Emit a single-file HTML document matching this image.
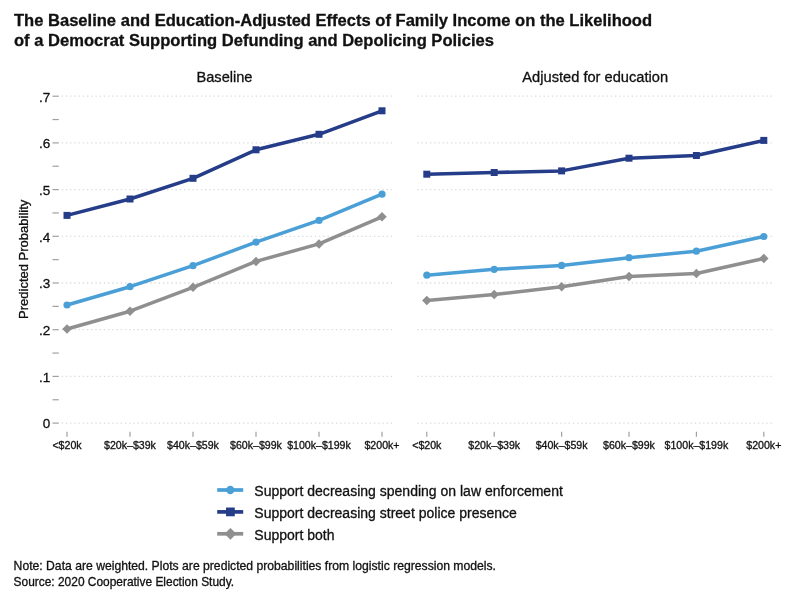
<!DOCTYPE html><html><head><meta charset="utf-8"><style>html,body{margin:0;padding:0;background:#fff;}svg{display:block;will-change:transform}text{font-family:"Liberation Sans",sans-serif;fill:#111;stroke:#111;stroke-width:0.3px}</style></head><body>
<svg width="798" height="600" viewBox="0 0 798 600">
<rect width="798" height="600" fill="#fff"/>
<text x="14" y="26.1" font-size="16.56" font-weight="bold" stroke-width="0">The Baseline and Education-Adjusted Effects of Family Income on the Likelihood</text>
<text x="14" y="45.9" font-size="16.56" font-weight="bold" stroke-width="0">of a Democrat Supporting Defunding and Depolicing Policies</text>
<text x="224.5" y="81.6" font-size="14.6" text-anchor="middle">Baseline</text>
<text x="595.2" y="81.6" font-size="14.65" text-anchor="middle">Adjusted for education</text>
<text transform="translate(27.9,259.3) rotate(-90)" font-size="13" text-anchor="middle">Predicted Probability</text>
<line x1="61.6" y1="423.10" x2="392" y2="423.10" stroke="#dcdcdc" stroke-width="1.3" stroke-dasharray="1.4 2.82"/>
<line x1="417.3" y1="423.10" x2="772.5" y2="423.10" stroke="#dcdcdc" stroke-width="1.3" stroke-dasharray="1.4 2.804"/>
<line x1="61.6" y1="376.40" x2="392" y2="376.40" stroke="#dcdcdc" stroke-width="1.3" stroke-dasharray="1.4 2.82"/>
<line x1="417.3" y1="376.40" x2="772.5" y2="376.40" stroke="#dcdcdc" stroke-width="1.3" stroke-dasharray="1.4 2.804"/>
<line x1="61.6" y1="329.70" x2="392" y2="329.70" stroke="#dcdcdc" stroke-width="1.3" stroke-dasharray="1.4 2.82"/>
<line x1="417.3" y1="329.70" x2="772.5" y2="329.70" stroke="#dcdcdc" stroke-width="1.3" stroke-dasharray="1.4 2.804"/>
<line x1="61.6" y1="283.00" x2="392" y2="283.00" stroke="#dcdcdc" stroke-width="1.3" stroke-dasharray="1.4 2.82"/>
<line x1="417.3" y1="283.00" x2="772.5" y2="283.00" stroke="#dcdcdc" stroke-width="1.3" stroke-dasharray="1.4 2.804"/>
<line x1="61.6" y1="236.30" x2="392" y2="236.30" stroke="#dcdcdc" stroke-width="1.3" stroke-dasharray="1.4 2.82"/>
<line x1="417.3" y1="236.30" x2="772.5" y2="236.30" stroke="#dcdcdc" stroke-width="1.3" stroke-dasharray="1.4 2.804"/>
<line x1="61.6" y1="189.60" x2="392" y2="189.60" stroke="#dcdcdc" stroke-width="1.3" stroke-dasharray="1.4 2.82"/>
<line x1="417.3" y1="189.60" x2="772.5" y2="189.60" stroke="#dcdcdc" stroke-width="1.3" stroke-dasharray="1.4 2.804"/>
<line x1="61.6" y1="142.90" x2="392" y2="142.90" stroke="#dcdcdc" stroke-width="1.3" stroke-dasharray="1.4 2.82"/>
<line x1="417.3" y1="142.90" x2="772.5" y2="142.90" stroke="#dcdcdc" stroke-width="1.3" stroke-dasharray="1.4 2.804"/>
<line x1="61.6" y1="96.20" x2="392" y2="96.20" stroke="#dcdcdc" stroke-width="1.3" stroke-dasharray="1.4 2.82"/>
<line x1="417.3" y1="96.20" x2="772.5" y2="96.20" stroke="#dcdcdc" stroke-width="1.3" stroke-dasharray="1.4 2.804"/>
<line x1="52.5" y1="423.10" x2="58.8" y2="423.10" stroke="#a0a0a0" stroke-width="1.2"/>
<line x1="52.5" y1="399.75" x2="58.8" y2="399.75" stroke="#a0a0a0" stroke-width="1.2"/>
<line x1="52.5" y1="376.40" x2="58.8" y2="376.40" stroke="#a0a0a0" stroke-width="1.2"/>
<line x1="52.5" y1="353.05" x2="58.8" y2="353.05" stroke="#a0a0a0" stroke-width="1.2"/>
<line x1="52.5" y1="329.70" x2="58.8" y2="329.70" stroke="#a0a0a0" stroke-width="1.2"/>
<line x1="52.5" y1="306.35" x2="58.8" y2="306.35" stroke="#a0a0a0" stroke-width="1.2"/>
<line x1="52.5" y1="283.00" x2="58.8" y2="283.00" stroke="#a0a0a0" stroke-width="1.2"/>
<line x1="52.5" y1="259.65" x2="58.8" y2="259.65" stroke="#a0a0a0" stroke-width="1.2"/>
<line x1="52.5" y1="236.30" x2="58.8" y2="236.30" stroke="#a0a0a0" stroke-width="1.2"/>
<line x1="52.5" y1="212.95" x2="58.8" y2="212.95" stroke="#a0a0a0" stroke-width="1.2"/>
<line x1="52.5" y1="189.60" x2="58.8" y2="189.60" stroke="#a0a0a0" stroke-width="1.2"/>
<line x1="52.5" y1="166.25" x2="58.8" y2="166.25" stroke="#a0a0a0" stroke-width="1.2"/>
<line x1="52.5" y1="142.90" x2="58.8" y2="142.90" stroke="#a0a0a0" stroke-width="1.2"/>
<line x1="52.5" y1="119.55" x2="58.8" y2="119.55" stroke="#a0a0a0" stroke-width="1.2"/>
<line x1="52.5" y1="96.20" x2="58.8" y2="96.20" stroke="#a0a0a0" stroke-width="1.2"/>
<text x="50.3" y="428.45" font-size="13.5" text-anchor="end">0</text>
<text x="50.3" y="381.75" font-size="13.5" text-anchor="end">.1</text>
<text x="50.3" y="335.05" font-size="13.5" text-anchor="end">.2</text>
<text x="50.3" y="288.35" font-size="13.5" text-anchor="end">.3</text>
<text x="50.3" y="241.65" font-size="13.5" text-anchor="end">.4</text>
<text x="50.3" y="194.95" font-size="13.5" text-anchor="end">.5</text>
<text x="50.3" y="148.25" font-size="13.5" text-anchor="end">.6</text>
<text x="50.3" y="101.55" font-size="13.5" text-anchor="end">.7</text>
<line x1="67.00" y1="431.8" x2="67.00" y2="436.7" stroke="#a0a0a0" stroke-width="1.2"/>
<text x="67.00" y="448.7" font-size="10.6" text-anchor="middle">&lt;$20k</text>
<line x1="130.00" y1="431.8" x2="130.00" y2="436.7" stroke="#a0a0a0" stroke-width="1.2"/>
<text x="130.00" y="448.7" font-size="10.6" text-anchor="middle">$20k&#8211;$39k</text>
<line x1="193.00" y1="431.8" x2="193.00" y2="436.7" stroke="#a0a0a0" stroke-width="1.2"/>
<text x="193.00" y="448.7" font-size="10.6" text-anchor="middle">$40k&#8211;$59k</text>
<line x1="256.00" y1="431.8" x2="256.00" y2="436.7" stroke="#a0a0a0" stroke-width="1.2"/>
<text x="256.00" y="448.7" font-size="10.6" text-anchor="middle">$60k&#8211;$99k</text>
<line x1="319.00" y1="431.8" x2="319.00" y2="436.7" stroke="#a0a0a0" stroke-width="1.2"/>
<text x="319.00" y="448.7" font-size="10.6" text-anchor="middle">$100k&#8211;$199k</text>
<line x1="382.00" y1="431.8" x2="382.00" y2="436.7" stroke="#a0a0a0" stroke-width="1.2"/>
<text x="382.00" y="448.7" font-size="10.6" text-anchor="middle">$200k+</text>
<line x1="426.80" y1="431.8" x2="426.80" y2="436.7" stroke="#a0a0a0" stroke-width="1.2"/>
<text x="426.80" y="448.7" font-size="10.6" text-anchor="middle">&lt;$20k</text>
<line x1="494.20" y1="431.8" x2="494.20" y2="436.7" stroke="#a0a0a0" stroke-width="1.2"/>
<text x="494.20" y="448.7" font-size="10.6" text-anchor="middle">$20k&#8211;$39k</text>
<line x1="561.60" y1="431.8" x2="561.60" y2="436.7" stroke="#a0a0a0" stroke-width="1.2"/>
<text x="561.60" y="448.7" font-size="10.6" text-anchor="middle">$40k&#8211;$59k</text>
<line x1="629.00" y1="431.8" x2="629.00" y2="436.7" stroke="#a0a0a0" stroke-width="1.2"/>
<text x="629.00" y="448.7" font-size="10.6" text-anchor="middle">$60k&#8211;$99k</text>
<line x1="696.40" y1="431.8" x2="696.40" y2="436.7" stroke="#a0a0a0" stroke-width="1.2"/>
<text x="696.40" y="448.7" font-size="10.6" text-anchor="middle">$100k&#8211;$199k</text>
<line x1="763.80" y1="431.8" x2="763.80" y2="436.7" stroke="#a0a0a0" stroke-width="1.2"/>
<text x="763.80" y="448.7" font-size="10.6" text-anchor="middle">$200k+</text>
<polyline points="67.00,329.00 130.00,311.20 193.00,287.30 256.00,261.40 319.00,243.90 382.00,216.80" fill="none" stroke="#8f8f8f" stroke-width="3.5" stroke-linejoin="round"/>
<polygon points="67.00,324.25 71.75,329.00 67.00,333.75 62.25,329.00" fill="#8f8f8f"/>
<polygon points="130.00,306.45 134.75,311.20 130.00,315.95 125.25,311.20" fill="#8f8f8f"/>
<polygon points="193.00,282.55 197.75,287.30 193.00,292.05 188.25,287.30" fill="#8f8f8f"/>
<polygon points="256.00,256.65 260.75,261.40 256.00,266.15 251.25,261.40" fill="#8f8f8f"/>
<polygon points="319.00,239.15 323.75,243.90 319.00,248.65 314.25,243.90" fill="#8f8f8f"/>
<polygon points="382.00,212.05 386.75,216.80 382.00,221.55 377.25,216.80" fill="#8f8f8f"/>
<polyline points="67.00,305.00 130.00,286.70 193.00,265.70 256.00,242.10 319.00,220.40 382.00,194.20" fill="none" stroke="#4a9fd6" stroke-width="3.5" stroke-linejoin="round"/>
<ellipse cx="67.00" cy="305.00" rx="3.60" ry="3.60" fill="#4a9fd6"/>
<ellipse cx="130.00" cy="286.70" rx="3.60" ry="3.60" fill="#4a9fd6"/>
<ellipse cx="193.00" cy="265.70" rx="3.60" ry="3.60" fill="#4a9fd6"/>
<ellipse cx="256.00" cy="242.10" rx="3.60" ry="3.60" fill="#4a9fd6"/>
<ellipse cx="319.00" cy="220.40" rx="3.60" ry="3.60" fill="#4a9fd6"/>
<ellipse cx="382.00" cy="194.20" rx="3.60" ry="3.60" fill="#4a9fd6"/>
<polyline points="67.00,215.40 130.00,199.00 193.00,178.30 256.00,149.80 319.00,134.30 382.00,110.80" fill="none" stroke="#253d88" stroke-width="3.5" stroke-linejoin="round"/>
<rect x="63.50" y="211.90" width="7.00" height="7.00" fill="#253d88"/>
<rect x="126.50" y="195.50" width="7.00" height="7.00" fill="#253d88"/>
<rect x="189.50" y="174.80" width="7.00" height="7.00" fill="#253d88"/>
<rect x="252.50" y="146.30" width="7.00" height="7.00" fill="#253d88"/>
<rect x="315.50" y="130.80" width="7.00" height="7.00" fill="#253d88"/>
<rect x="378.50" y="107.30" width="7.00" height="7.00" fill="#253d88"/>
<polyline points="426.80,300.40 494.20,294.50 561.60,286.80 629.00,276.50 696.40,273.50 763.80,258.40" fill="none" stroke="#8f8f8f" stroke-width="3.5" stroke-linejoin="round"/>
<polygon points="426.80,295.65 431.55,300.40 426.80,305.15 422.05,300.40" fill="#8f8f8f"/>
<polygon points="494.20,289.75 498.95,294.50 494.20,299.25 489.45,294.50" fill="#8f8f8f"/>
<polygon points="561.60,282.05 566.35,286.80 561.60,291.55 556.85,286.80" fill="#8f8f8f"/>
<polygon points="629.00,271.75 633.75,276.50 629.00,281.25 624.25,276.50" fill="#8f8f8f"/>
<polygon points="696.40,268.75 701.15,273.50 696.40,278.25 691.65,273.50" fill="#8f8f8f"/>
<polygon points="763.80,253.65 768.55,258.40 763.80,263.15 759.05,258.40" fill="#8f8f8f"/>
<polyline points="426.80,275.20 494.20,269.30 561.60,265.40 629.00,257.70 696.40,251.20 763.80,236.50" fill="none" stroke="#4a9fd6" stroke-width="3.5" stroke-linejoin="round"/>
<ellipse cx="426.80" cy="275.20" rx="3.60" ry="3.60" fill="#4a9fd6"/>
<ellipse cx="494.20" cy="269.30" rx="3.60" ry="3.60" fill="#4a9fd6"/>
<ellipse cx="561.60" cy="265.40" rx="3.60" ry="3.60" fill="#4a9fd6"/>
<ellipse cx="629.00" cy="257.70" rx="3.60" ry="3.60" fill="#4a9fd6"/>
<ellipse cx="696.40" cy="251.20" rx="3.60" ry="3.60" fill="#4a9fd6"/>
<ellipse cx="763.80" cy="236.50" rx="3.60" ry="3.60" fill="#4a9fd6"/>
<polyline points="426.80,174.20 494.20,172.50 561.60,170.90 629.00,158.20 696.40,155.50 763.80,140.40" fill="none" stroke="#253d88" stroke-width="3.5" stroke-linejoin="round"/>
<rect x="423.30" y="170.70" width="7.00" height="7.00" fill="#253d88"/>
<rect x="490.70" y="169.00" width="7.00" height="7.00" fill="#253d88"/>
<rect x="558.10" y="167.40" width="7.00" height="7.00" fill="#253d88"/>
<rect x="625.50" y="154.70" width="7.00" height="7.00" fill="#253d88"/>
<rect x="692.90" y="152.00" width="7.00" height="7.00" fill="#253d88"/>
<rect x="760.30" y="136.90" width="7.00" height="7.00" fill="#253d88"/>
<line x1="217.2" y1="490.0" x2="243.2" y2="490.0" stroke="#4a9fd6" stroke-width="3.7"/>
<ellipse cx="230.30" cy="490.00" rx="4.03" ry="4.23" fill="#4a9fd6"/>
<text x="254.3" y="495.70" font-size="14.02">Support decreasing spending on law enforcement</text>
<line x1="217.2" y1="511.9" x2="243.2" y2="511.9" stroke="#253d88" stroke-width="3.7"/>
<rect x="226.03" y="507.52" width="8.75" height="8.75" fill="#253d88"/>
<text x="254.3" y="517.60" font-size="14.02">Support decreasing street police presence</text>
<line x1="217.2" y1="533.8" x2="243.2" y2="533.8" stroke="#8f8f8f" stroke-width="3.7"/>
<polygon points="230.45,527.91 236.34,533.80 230.45,539.69 224.56,533.80" fill="#8f8f8f"/>
<text x="254.3" y="539.50" font-size="14.02">Support both</text>
<text x="13.6" y="569.7" font-size="12.18">Note: Data are weighted. Plots are predicted probabilities from logistic regression models.</text>
<text x="13.6" y="585.9" font-size="11.93">Source: 2020 Cooperative Election Study.</text>
</svg></body></html>
